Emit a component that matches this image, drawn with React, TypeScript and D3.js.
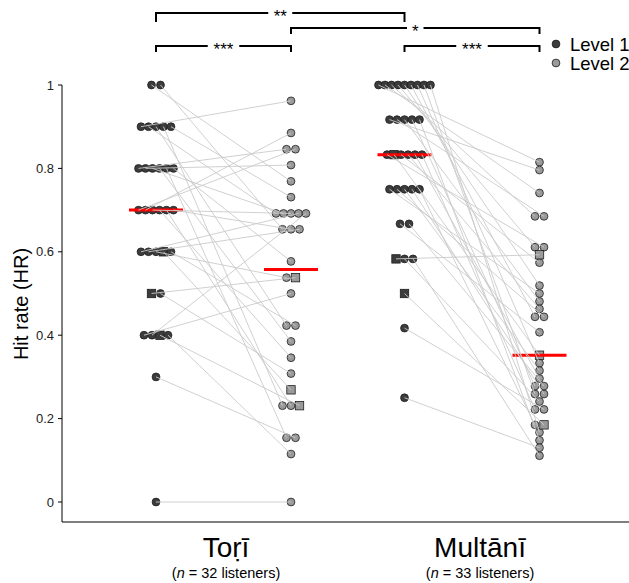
import * as d3 from "d3";

// conditions and levels
const conditions = ["Toṛī", "Multānī"];
const listenerCounts = [32, 33];
const levels = ["Level 1", "Level 2"];

// hit rate per listener (same index = same listener)
const toriLevel1 = [
  1, 1, 0.9, 0.9, 0.9, 0.9, 0.9, 0.8, 0.8, 0.8, 0.8, 0.8, 0.8, 0.7, 0.7, 0.7,
  0.7, 0.7, 0.7, 0.6, 0.6, 0.6, 0.6, 0.6, 0.5, 0.5, 0.4, 0.4, 0.4, 0.4, 0.3, 0,
];
const toriLevel2 = [
  0.769, 0.654, 0.962, 0.692, 0.423, 0.231, 0.731, 0.846, 0.808, 0.692, 0.385,
  0.154, 0.577, 0.846, 0.885, 0.692, 0.346, 0.231, 0.654, 0.692, 0.654, 0.538,
  0.269, 0.423, 0.538, 0.308, 0.5, 0.692, 0.231, 0.115, 0.154, 0,
];
const toriSquares = [22, 24, 28];

const multaniLevel1 = [
  1, 1, 1, 1, 1, 1, 1, 1, 1, 0.917, 0.917, 0.917, 0.917, 0.917, 0.833, 0.833,
  0.833, 0.833, 0.833, 0.833, 0.75, 0.75, 0.75, 0.75, 0.75, 0.667, 0.667,
  0.583, 0.583, 0.583, 0.5, 0.417, 0.25,
];
const multaniLevel2 = [
  0.815, 0.741, 0.685, 0.611, 0.519, 0.444, 0.333, 0.259, 0.167, 0.796, 0.685,
  0.481, 0.278, 0.148, 0.611, 0.352, 0.574, 0.463, 0.296, 0.222, 0.5, 0.444,
  0.315, 0.259, 0.185, 0.407, 0.278, 0.593, 0.241, 0.111, 0.185, 0.222, 0.13,
];
const multaniSquares = [15, 27, 30];

const yTicks = [0, 0.2, 0.4, 0.6, 0.8, 1];

const comparisons = [
  { a: ["Toṛī", "Level 1"], b: ["Multānī", "Level 1"], label: "**", row: 0 },
  { a: ["Toṛī", "Level 2"], b: ["Multānī", "Level 2"], label: "*", row: 1 },
  { a: ["Toṛī", "Level 1"], b: ["Toṛī", "Level 2"], label: "***", row: 2 },
  { a: ["Multānī", "Level 1"], b: ["Multānī", "Level 2"], label: "***", row: 2 },
];

const FONT = "'Liberation Sans', Arial, Helvetica, sans-serif";
const W = 629;
const H = 583;

type Pt = { x: number; y: number; square: boolean };

export default function App() {
  const y = d3.scaleLinear().domain([0, 1]).range([502, 85]);
  const xCond = d3.scalePoint<string>().domain(conditions).range([223.5, 472]);
  const xLevel = d3.scalePoint<string>().domain(levels).range([-67.5, 67.5]);
  const colX = (c: string, l: string) => (xCond(c) as number) + (xLevel(l) as number);
  // label centres sit a little apart from the column pairs
  const xLabel = d3.scalePoint<string>().domain(conditions).range([226, 480]);

  const axisX = 62;
  const axisBottom = 522;

  // spread equal values side by side
  const place = (vals: number[], squares: number[], cx: number): Pt[] => {
    const groups = d3.group(d3.range(vals.length), (i) => Math.round(vals[i] * 1000));
    const pts: Pt[] = new Array(vals.length);
    groups.forEach((idx) => {
      const k = idx.length;
      const step = Math.max(6.5, 10 - 0.5 * k);
      idx.forEach((i, j) => {
        pts[i] = {
          x: cx + (j - (k - 1) / 2) * step,
          y: y(vals[i]),
          square: squares.includes(i),
        };
      });
    });
    return pts;
  };

  const sets = [
    { cond: "Toṛī", l1: toriLevel1, l2: toriLevel2, sq: toriSquares },
    { cond: "Multānī", l1: multaniLevel1, l2: multaniLevel2, sq: multaniSquares },
  ].map((s) => ({
    ...s,
    p1: place(s.l1, s.sq, colX(s.cond, "Level 1")),
    p2: place(s.l2, s.sq, colX(s.cond, "Level 2")),
  }));

  const fill1 = "#3c3c3c";
  const fill2 = "#9a9a9a";

  const mark = (p: Pt, fill: string, key: string) =>
    p.square ? (
      <rect key={key} x={p.x - 4.2} y={p.y - 4.2} width={8.4} height={8.4}
        fill={fill} stroke="#1e1e1e" strokeWidth={0.8} />
    ) : (
      <circle key={key} cx={p.x} cy={p.y} r={3.9} fill={fill} stroke="#1e1e1e" strokeWidth={0.8} />
    );

  const rowY = [13, 28, 46];
  const rowTick = [9, 6, 6];

  return (
    <svg width={W} height={H} style={{ position: "absolute", left: 0, top: 0, background: "#fff" }}
      fontFamily={FONT}>
      {/* axes */}
      <line x1={axisX} x2={axisX} y1={y(1)} y2={axisBottom} stroke="#000" strokeWidth={1} />
      <line x1={axisX} x2={W} y1={axisBottom} y2={axisBottom} stroke="#000" strokeWidth={1} />
      {yTicks.map((t) => (
        <g key={t} transform={`translate(0,${y(t)})`}>
          <line x1={axisX - 4} x2={axisX} stroke="#000" />
          <text x={axisX - 8} dy="0.35em" textAnchor="end" fontSize={13} fill="#222">
            {String(t)}
          </text>
        </g>
      ))}
      <text transform={`translate(28,304) rotate(-90)`} textAnchor="middle" fontSize={20}>
        Hit rate (HR)
      </text>

      {/* points */}
      {sets.map((s) => (
        <g key={s.cond}>
          {s.p1.map((p, i) => mark(p, fill1, "a" + i))}
          {s.p2.map((p, i) => mark(p, fill2, "b" + i))}
        </g>
      ))}

      {/* medians */}
      {sets.map((s) =>
        [
          { l: "Level 1", v: s.l1 },
          { l: "Level 2", v: s.l2 },
        ].map(({ l, v }) => {
          const cx = colX(s.cond, l);
          const m = d3.median(v) as number;
          return (
            <line key={s.cond + l} x1={cx - 27} x2={cx + 27} y1={y(m)} y2={y(m)}
              stroke="#ff0000" strokeWidth={3} />
          );
        })
      )}

      {/* paired lines */}
      {sets.map((s) => (
        <g key={"ln" + s.cond}>
          {s.p1.map((p, i) => (
            <line key={i} x1={p.x} y1={p.y} x2={s.p2[i].x} y2={s.p2[i].y}
              stroke="#cbcbcb" strokeWidth={0.9} />
          ))}
        </g>
      ))}

      {/* significance brackets */}
      {comparisons.map((c, i) => {
        const x1 = colX(c.a[0], c.a[1]);
        const x2 = colX(c.b[0], c.b[1]);
        const yy = rowY[c.row];
        const mid = (x1 + x2) / 2;
        const tw = c.label.length * 7.5 + 9;
        return (
          <g key={i}>
            <path d={`M${x1},${yy + rowTick[c.row]}V${yy}H${x2}V${yy + rowTick[c.row]}`}
              fill="none" stroke="#000" strokeWidth={2} />
            <rect x={mid - tw / 2} y={yy - 5} width={tw} height={10} fill="#fff" />
            <text x={mid} y={yy + 9} textAnchor="middle" fontSize={17}>
              {c.label}
            </text>
          </g>
        );
      })}

      {/* legend */}
      {levels.map((l, i) => (
        <g key={l} transform={`translate(556,${44 + i * 19})`}>
          <circle r={3.9} fill={i === 0 ? fill1 : fill2} stroke="#1e1e1e" strokeWidth={0.8} />
          <text x={14} dy="0.36em" fontSize={18.5}>{l}</text>
        </g>
      ))}

      {/* category labels */}
      {conditions.map((c, i) => (
        <g key={c} transform={`translate(${xLabel(c)},0)`}>
          <text y={557} textAnchor="middle" fontSize={28}>{c}</text>
          <text y={578} textAnchor="middle" fontSize={14.5}>
            (<tspan fontStyle="italic">n</tspan> = {listenerCounts[i]} listeners)
          </text>
        </g>
      ))}
    </svg>
  );
}
